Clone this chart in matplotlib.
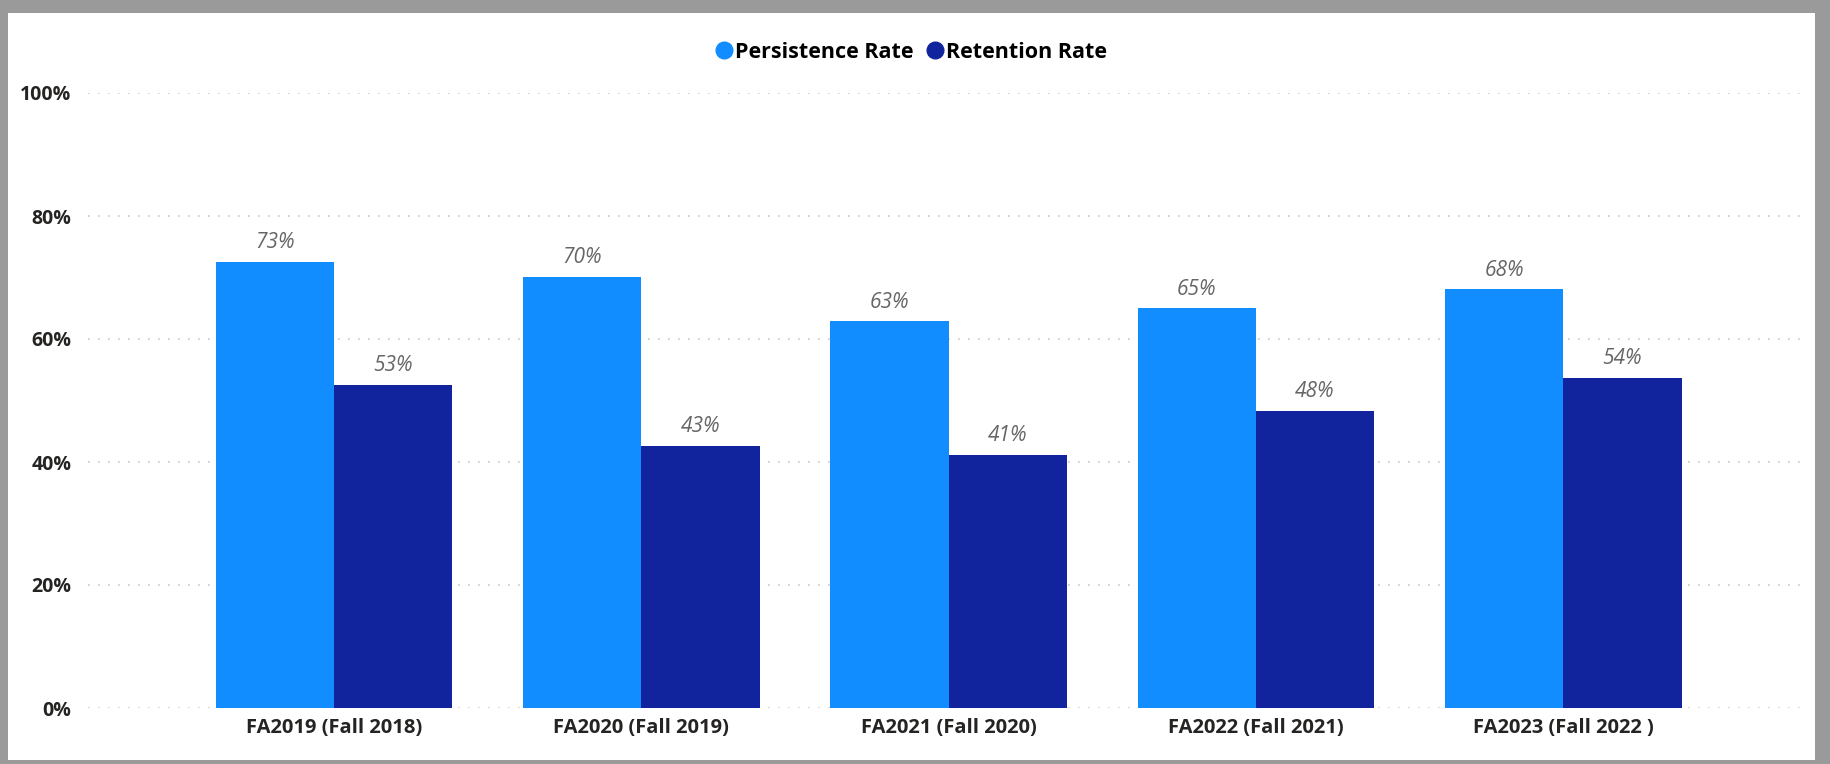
import numpy as np
import matplotlib.pyplot as plt
from matplotlib.patches import Rectangle
from matplotlib.lines import Line2D

plt.rcParams['font.family'] = ['Open Sans', 'DejaVu Sans']

# dados
categorias = ['FA2019 (Fall 2018)', 'FA2020 (Fall 2019)', 'FA2021 (Fall 2020)',
              'FA2022 (Fall 2021)', 'FA2023 (Fall 2022 )']
persistencia = [72.6, 70.1, 62.9, 65.0, 68.1]
retencao = [52.6, 42.6, 41.2, 48.3, 53.7]
yticks = [0, 20, 40, 60, 80, 100]

cor_pers = '#118DFF'
cor_ret = '#12239E'

fig = plt.figure(figsize=(18.3, 7.64), dpi=100)
fig.patch.set_facecolor('#9a9a9a')
fig.add_artist(Rectangle((8 / 1830, 4 / 764), (1815 - 8) / 1830, (751 - 4) / 764,
                         transform=fig.transFigure, facecolor='white',
                         edgecolor='none', zorder=0))

ax = fig.add_axes([88 / 1830, 1 - 708 / 764, (1803 - 88) / 1830, (708 - 93) / 764])
ax.set_facecolor('none')

x = np.arange(len(categorias))
w = 0.385
b1 = ax.bar(x - w / 2, persistencia, w, color=cor_pers, zorder=3)
b2 = ax.bar(x + w / 2, retencao, w, color=cor_ret, zorder=3)

for barras in (b1, b2):
    for b in barras:
        v = b.get_height()
        ax.text(b.get_x() + b.get_width() / 2, v + 1.4, f'{round(v):.0f}%',
                ha='center', va='bottom', fontsize=15, style='italic',
                color='#666666')

ax.set_xlim(-0.8, 4.78)
ax.set_ylim(0, 100)
ax.set_yticks(yticks)
ax.set_yticklabels([f'{t}%' for t in yticks], fontsize=14, fontweight='bold',
                   color='#252423')
ax.set_xticks(x)
ax.set_xticklabels(categorias, fontsize=14.5, fontweight='bold', color='#252423')
ax.tick_params(length=0, axis='y', pad=12)
ax.tick_params(length=0, axis='x', pad=7)
for t in yticks:
    ax.axhline(t, color='#c8c8c8', linestyle=(0, (1, 5)), linewidth=1.2, zorder=1)
for s in ax.spines.values():
    s.set_visible(False)

handles = [Line2D([], [], marker='o', linestyle='none', color=cor_pers, markersize=12),
           Line2D([], [], marker='o', linestyle='none', color=cor_ret, markersize=12)]
fig.legend(handles, ['Persistence Rate', 'Retention Rate'], loc='center',
           bbox_to_anchor=(910 / 1830, 1 - 52 / 764), ncol=2, frameon=False,
           prop={'size': 15.5, 'weight': 'bold'}, handletextpad=0.0,
           columnspacing=0.5, handlelength=1.0)

fig.savefig('out.png', dpi=100, facecolor=fig.get_facecolor())
